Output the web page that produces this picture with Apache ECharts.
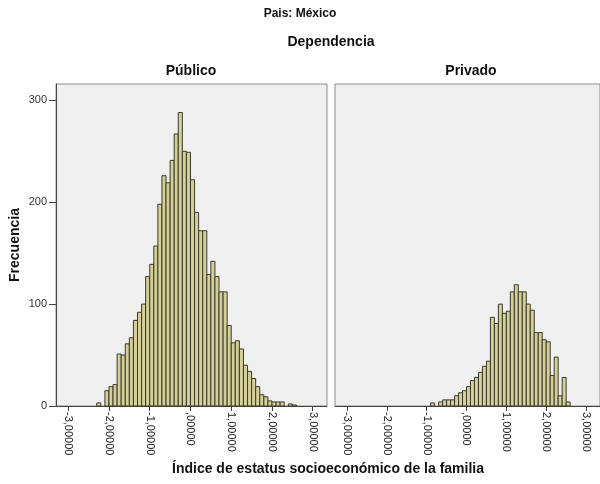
<!DOCTYPE html>
<html>
<head>
<meta charset="utf-8">
<title>Histograma - Pais: México</title>
<script src="https://cdn.jsdelivr.net/npm/echarts@6/dist/echarts.min.js"></script>
<style>
  html, body { margin: 0; padding: 0; background: #fff; }
  #chart { width: 600px; height: 484px; }
</style>
</head>
<body>
<div id="chart"></div>
<script>
// inicio de cada intervalo (ancho 0.1)
var binWidth = 0.1
var binStarts = [-2.3, -2.2, -2.1, -2.0, -1.9, -1.8, -1.7, -1.6, -1.5, -1.4,
  -1.3, -1.2, -1.1, -1.0, -0.9, -0.8, -0.7, -0.6, -0.5, -0.4,
  -0.3, -0.2, -0.1, 0.0, 0.1, 0.2, 0.3, 0.4, 0.5, 0.6,
  0.7, 0.8, 0.9, 1.0, 1.1, 1.2, 1.3, 1.4, 1.5, 1.6,
  1.7, 1.8, 1.9, 2.0, 2.1, 2.2, 2.3, 2.4, 2.5]

// frecuencias por intervalo
var publico = [3, 0, 15, 19, 21, 51, 50, 61, 67, 84,
  92, 100, 127, 139, 157, 198, 226, 219, 241, 267,
  288, 250, 249, 222, 190, 172, 172, 129, 142, 127,
  112, 112, 79, 62, 64, 56, 40, 34, 27, 19,
  11, 9, 5, 4, 4, 4, 0, 2, 1]
var privado = [0, 0, 0, 0, 0, 0, 0, 0, 0, 0,
  0, 0, 0, 0, 3, 0, 4, 6, 6, 6,
  10, 13, 15, 19, 25, 28, 33, 39, 44, 87,
  81, 100, 91, 93, 112, 119, 112, 112, 100, 94,
  72, 72, 65, 63, 30, 48, 10, 28, 4]

var xTicks = [-3, -2, -1, 0, 1, 2, 3]
var xTickLabels = ['-3,00000', '-2,00000', '-1,00000', ',00000', '1,00000', '2,00000', '3,00000']
var yTicks = [0, 100, 200, 300]

var font = '"Liberation Sans", Arial, sans-serif'
var barFill = '#d4cf98'
var barStroke = '#3b3a2c'

function toData (counts) {
  return binStarts.map(function (s, i) { return [s, counts[i]] })
}

function renderBar (params, api) {
  var c = api.value(1)
  if (!c) return null
  var x0 = api.value(0)
  var p0 = api.coord([x0, c])
  var p1 = api.coord([x0 + binWidth, 0])
  return {
    type: 'rect',
    shape: { x: p0[0], y: p0[1], width: p1[0] - p0[0], height: p1[1] - p0[1] },
    style: { fill: barFill, stroke: barStroke, lineWidth: 1 }
  }
}

function xAxisFor (idx) {
  return {
    type: 'value',
    gridIndex: idx,
    min: -3.3,
    max: 3.35,
    splitLine: { show: false },
    axisLine: { show: true, onZero: false, lineStyle: { color: '#444', width: 1 } },
    axisTick: { show: true, length: 5, customValues: xTicks, lineStyle: { color: '#444' } },
    axisLabel: {
      customValues: xTicks,
      rotate: -90,
      margin: 6,
      color: '#222',
      fontSize: 11,
      fontFamily: font,
      formatter: function (v) {
        var k = xTicks.indexOf(Math.round(v))
        return k >= 0 ? xTickLabels[k] : ''
      }
    }
  }
}

var titleStyle = { fontSize: 14, fontWeight: 'bold', color: '#111', fontFamily: font }

var chart = echarts.init(document.getElementById('chart'))
chart.setOption({
  animation: false,
  backgroundColor: '#ffffff',
  title: [
    { text: 'Pais: México', left: 300, top: 8, padding: 0, textAlign: 'center',
      textStyle: { fontSize: 12, fontWeight: 'bold', color: '#111', fontFamily: font } },
    { text: 'Dependencia', left: 331, top: 35, padding: 0, textAlign: 'center', textStyle: titleStyle },
    { text: 'Público', left: 191, top: 64, padding: 0, textAlign: 'center', textStyle: titleStyle },
    { text: 'Privado', left: 471, top: 64, padding: 0, textAlign: 'center', textStyle: titleStyle },
    { text: 'Índice de estatus socioeconómico de la familia', left: 328, top: 462, padding: 0, textAlign: 'center', textStyle: titleStyle }
  ],
  grid: [
    { left: 56, top: 84, width: 271, height: 322, show: true, backgroundColor: '#f0f0f0', borderColor: '#8c8c8c', borderWidth: 1 },
    { left: 335, top: 84, width: 271, height: 322, show: true, backgroundColor: '#f0f0f0', borderColor: '#8c8c8c', borderWidth: 1 }
  ],
  xAxis: [xAxisFor(0), xAxisFor(1)],
  yAxis: [
    {
      type: 'value',
      gridIndex: 0,
      min: 0,
      max: 316,
      name: 'Frecuencia',
      nameLocation: 'middle',
      nameRotate: 90,
      nameGap: 34,
      nameTextStyle: titleStyle,
      splitLine: { show: false },
      axisLine: { show: true, onZero: false, lineStyle: { color: '#444' } },
      axisTick: { show: true, length: 7, customValues: yTicks, lineStyle: { color: '#444' } },
      axisLabel: { customValues: yTicks, margin: 9, color: '#333', fontSize: 11, fontFamily: font }
    },
    {
      type: 'value',
      gridIndex: 1,
      min: 0,
      max: 316,
      splitLine: { show: false },
      axisLine: { show: false },
      axisTick: { show: false },
      axisLabel: { show: false }
    }
  ],
  series: [
    { name: 'Público', type: 'custom', xAxisIndex: 0, yAxisIndex: 0, renderItem: renderBar, data: toData(publico) },
    { name: 'Privado', type: 'custom', xAxisIndex: 1, yAxisIndex: 1, renderItem: renderBar, data: toData(privado) }
  ]
})
</script>
</body>
</html>
